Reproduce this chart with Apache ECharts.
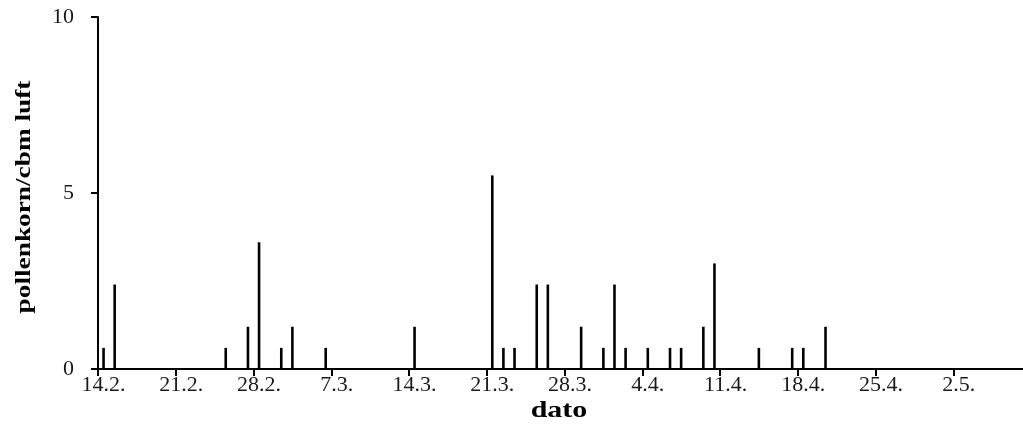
<!DOCTYPE html>
<html>
<head>
<meta charset="utf-8">
<script src="https://cdn.jsdelivr.net/npm/echarts@6/dist/echarts.min.js"></script>
<style>
  html, body { margin: 0; padding: 0; background: #fff; }
  #chart { width: 1023px; height: 443px; }
</style>
</head>
<body>
<div id="chart"></div>
<script>
// Daily pollen counts from 14 February; the date axis runs on past 7 May
const startDay = { month: 2, day: 14 };
const dayCount = 84;
const yTicks = [0, 5, 10];
const xTitle = 'dato';
const yTitle = 'pollenkorn/cbm luft';

// Days with a non-zero count (date label, pollen grains per cubic metre)
const countDates = ['14.2.', '15.2.', '25.2.', '27.2.', '28.2.', '2.3.', '3.3.', '6.3.',
  '14.3.', '21.3.', '22.3.', '23.3.', '25.3.', '26.3.', '29.3.', '31.3.',
  '1.4.', '2.4.', '4.4.', '6.4.', '7.4.', '9.4.', '10.4.', '14.4.', '17.4.', '18.4.', '20.4.'];
const countValues = [0.6, 2.4, 0.6, 1.2, 3.6, 0.6, 1.2, 0.6,
  1.2, 5.5, 0.6, 0.6, 2.4, 2.4, 1.2, 0.6,
  2.4, 0.6, 0.6, 0.6, 0.6, 1.2, 3.0, 0.6, 0.6, 0.6, 1.2];

// One category per day, labelled "d.m."
const categories = [];
const d0 = new Date(Date.UTC(2001, startDay.month - 1, startDay.day));
for (let i = 0; i < dayCount; i++) {
  const d = new Date(d0.getTime() + i * 86400000);
  categories.push(d.getUTCDate() + '.' + (d.getUTCMonth() + 1) + '.');
}

const lookup = {};
countDates.forEach((c, i) => { lookup[c] = countValues[i]; });
const values = categories.map(c => (c in lookup ? lookup[c] : 0));

const serif = 'Liberation Serif';

const chart = echarts.init(document.getElementById('chart'), null, { renderer: 'canvas' });
chart.setOption({
  animation: false,
  backgroundColor: '#fff',
  grid: { left: 98, top: 17, width: 933, height: 352, containLabel: false, outerBoundsMode: 'none' },
  xAxis: {
    type: 'category',
    data: categories,
    boundaryGap: true,
    axisLine: { lineStyle: { color: '#000', width: 2 } },
    axisTick: { show: true, interval: 6, alignWithLabel: false, length: 7, lineStyle: { color: '#000', width: 2 } },
    axisLabel: { interval: 6, margin: 5, fontFamily: serif, fontSize: 22, color: '#1a1a1a' },
    splitLine: { show: false }
  },
  yAxis: {
    type: 'value',
    min: yTicks[0],
    max: yTicks[yTicks.length - 1],
    interval: yTicks[1] - yTicks[0],
    axisLine: { show: true, lineStyle: { color: '#000', width: 2 } },
    axisTick: { show: true, length: 7, lineStyle: { color: '#000', width: 2 } },
    axisLabel: { margin: 24, fontFamily: serif, fontSize: 22, color: '#1a1a1a' },
    splitLine: { show: false }
  },
  // Axis titles, drawn a little wide like the bold serif captions of the original sheet
  graphic: [
    {
      type: 'text', x: 559, y: 411, scaleX: 1.25,
      style: { text: xTitle, fontFamily: serif, fontWeight: 'bold', fontSize: 24, fill: '#000', align: 'center', verticalAlign: 'middle' }
    },
    {
      type: 'text', x: 25, y: 197, rotation: Math.PI / 2, scaleX: 1.3,
      style: { text: yTitle, fontFamily: serif, fontWeight: 'bold', fontSize: 21, fill: '#000', align: 'center', verticalAlign: 'middle' }
    }
  ],
  series: [{
    type: 'bar',
    data: values,
    barWidth: 2.6,
    itemStyle: { color: '#000' },
    silent: true
  }]
});
</script>
</body>
</html>
